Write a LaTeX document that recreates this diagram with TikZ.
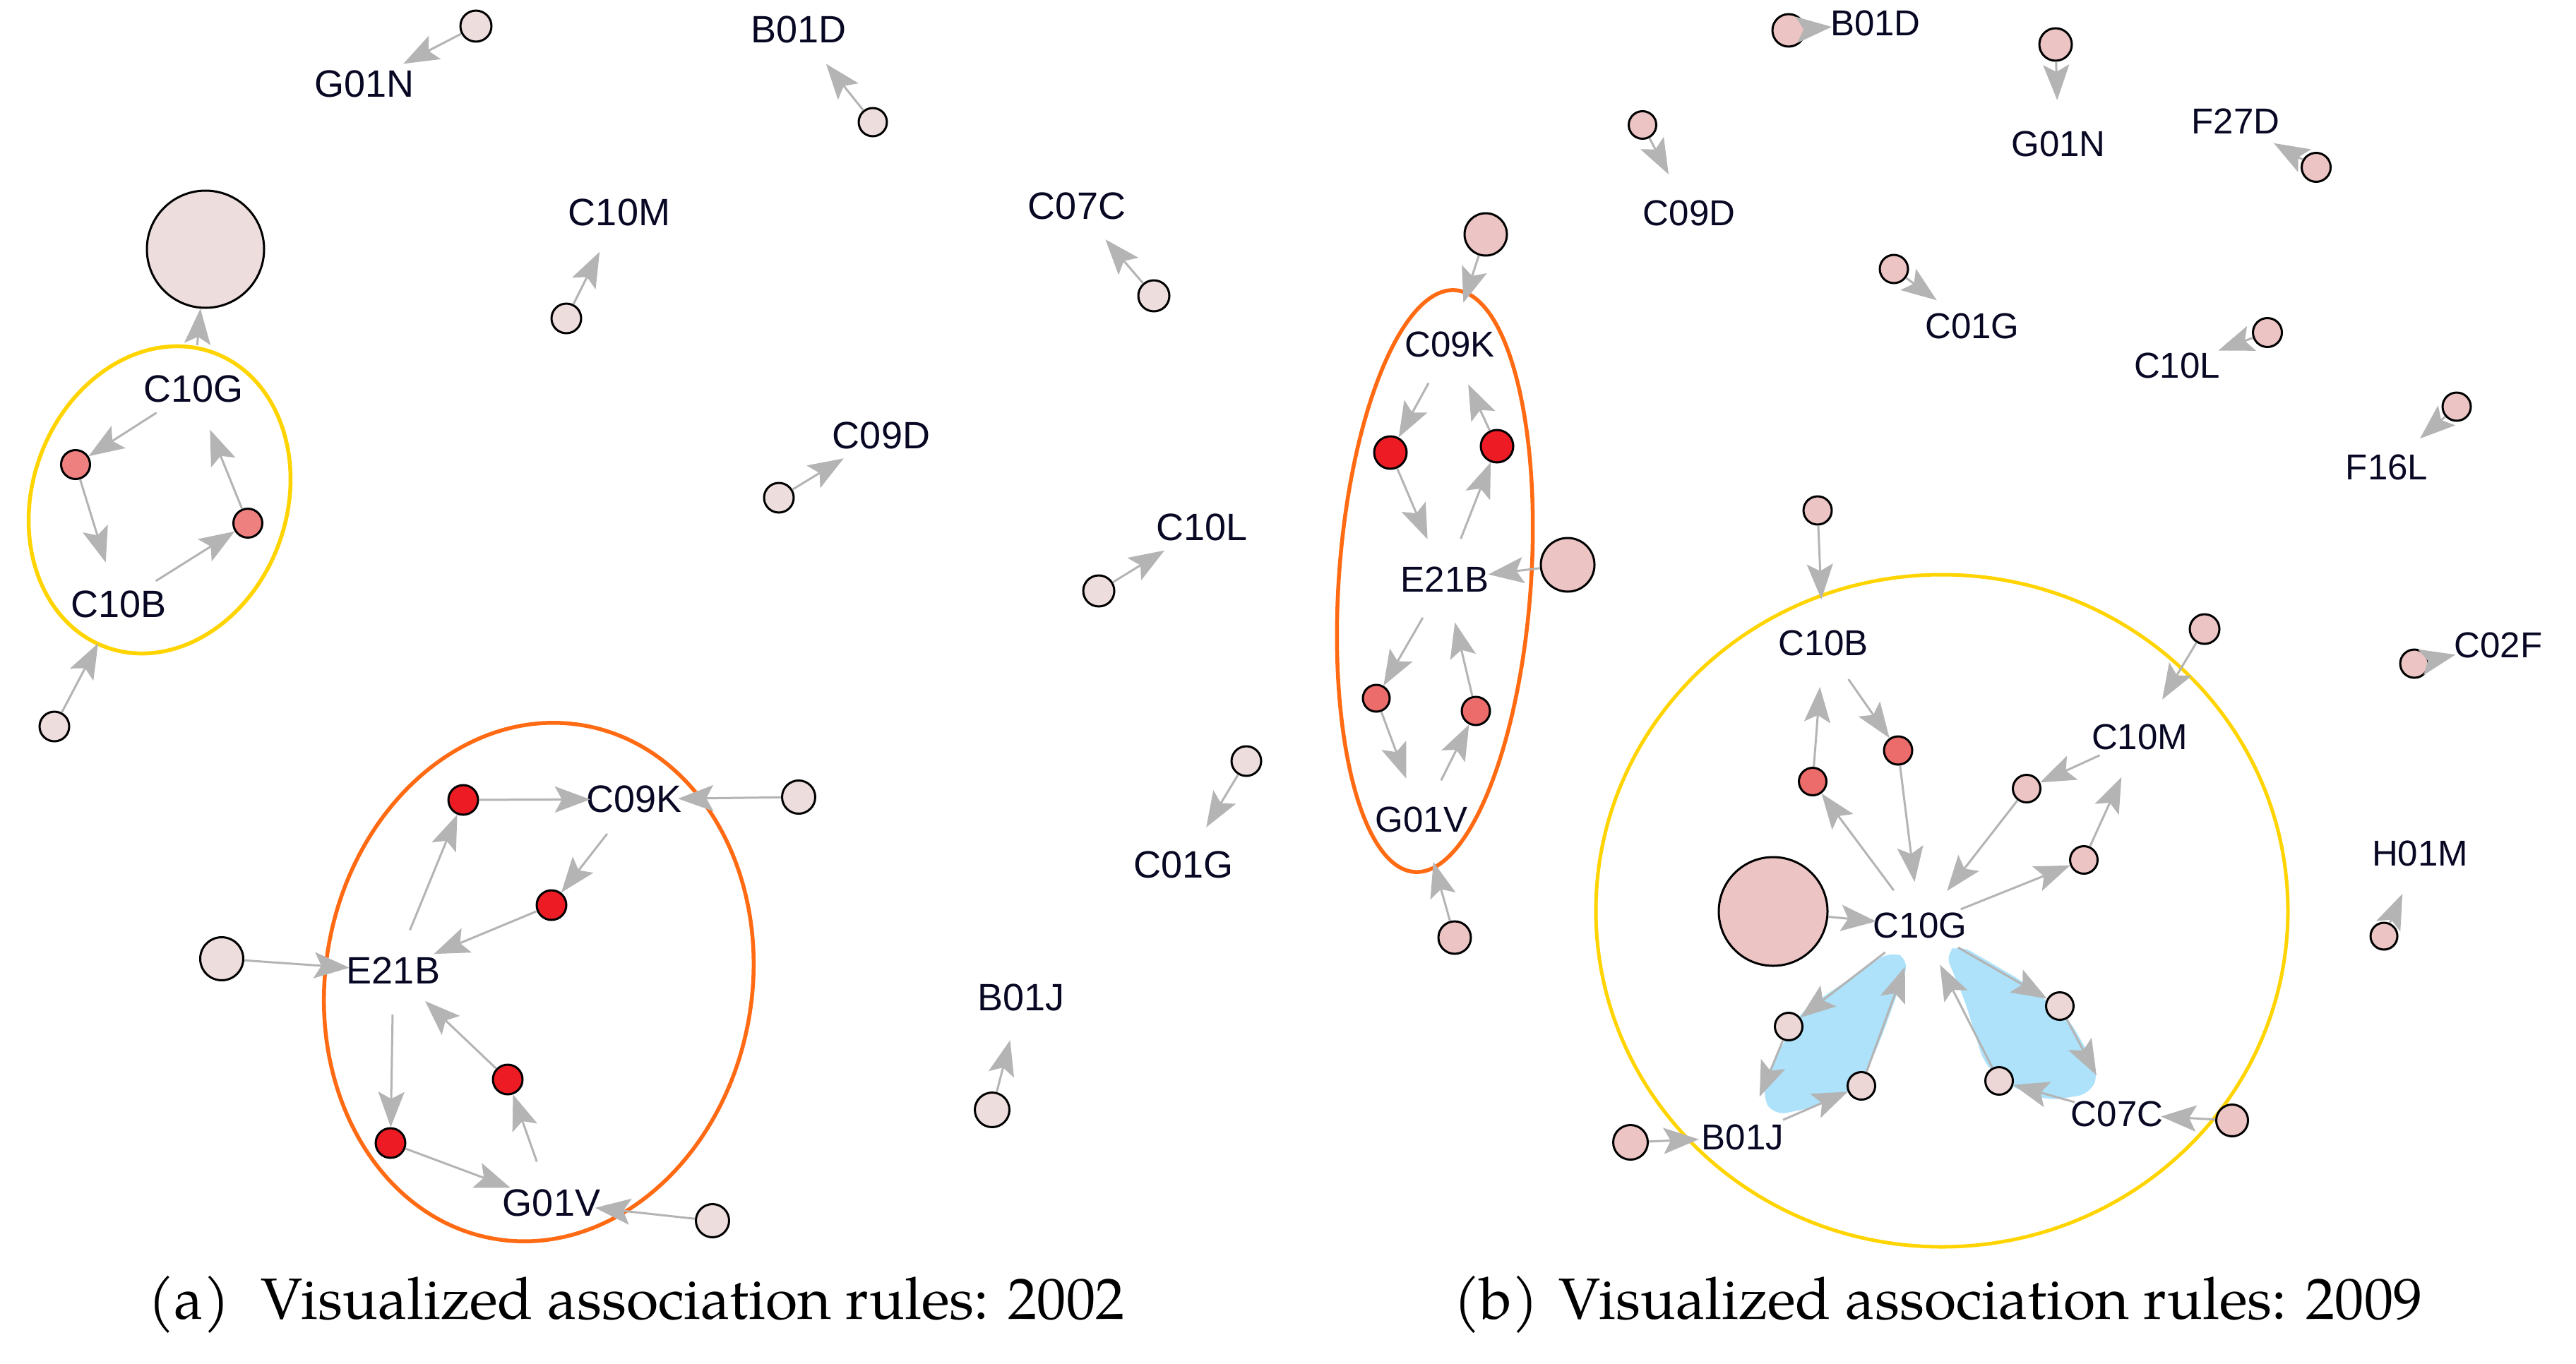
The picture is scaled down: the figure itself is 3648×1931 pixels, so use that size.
\documentclass[tikz,border=0pt]{standalone}
\usepackage{fontspec}
\setmainfont{TeX Gyre Pagella}
\newfontfamily\labfont{Liberation Sans}
\usetikzlibrary{arrows.meta}
\definecolor{edgegrey}{RGB}{180,180,180}
\definecolor{liteA}{RGB}{237,221,221}
\definecolor{salA}{RGB}{238,128,128}
\definecolor{redc}{RGB}{237,28,36}
\definecolor{liteB}{RGB}{236,196,196}
\definecolor{paleB}{RGB}{236,214,214}
\definecolor{salB}{RGB}{236,107,107}
\definecolor{blueblob}{RGB}{173,226,250}
\definecolor{yellowc}{RGB}{255,212,0}
\definecolor{orangec}{RGB}{255,106,19}
\definecolor{labc}{RGB}{8,8,36}
\newcommand\nlab[1]{\makebox[0pt]{#1}}
\begin{document}
\begin{tikzpicture}[x=1pt,y=-1pt,
  nd/.style={circle, draw=black, line width=3pt, inner sep=0pt},
  liteA/.style={nd, fill=liteA},
  salA/.style={nd, fill=salA},
  redn/.style={nd, fill=redc},
  liteB/.style={nd, fill=liteB},
  paleB/.style={nd, fill=paleB},
  salB/.style={nd, fill=salB},
  lbla/.style={circle, inner sep=0pt, minimum size=124pt, text=labc, font=\labfont\fontsize{54}{60}\selectfont},
  lblb/.style={circle, inner sep=0pt, minimum size=124pt, text=labc, font=\labfont\fontsize{51}{58}\selectfont},
  edge/.style={draw=edgegrey, line width=3pt, -{Stealth[length=50pt,width=37pt,inset=10pt]}},
  ring/.style={line width=5.5pt},
  captxt/.style={anchor=base west, inner sep=0pt, font=\fontsize{82.5}{90}\selectfont, text=black}
]
\fill[white] (0,0) rectangle (3648,1931);
\useasboundingbox (0,0) rectangle (3648,1931);

% ================= panel (a) 2002 =================
\draw[ring, yellowc, rotate around={-20:(226,708)}] (226,708) ellipse [x radius=180pt, y radius=222pt];
\draw[ring, orangec, rotate around={-10:(763,1391)}] (763,1391) ellipse [x radius=302pt, y radius=369pt];

\node[lbla] (lG01Na) at (516,119) {\nlab{G01N}};
\node[lbla] (lB01Da) at (1131,42) {\nlab{B01D}};
\node[lbla] (lC10Ma) at (877,301) {\nlab{C10M}};
\node[lbla] (lC07Ca) at (1525,292) {\nlab{C07C}};
\node[lbla] (lC10Ga) at (274,551) {\nlab{C10G}};
\node[lbla] (lC10Ba) at (168,856) {\nlab{C10B}};
\node[lbla] (lC09Da) at (1248,617) {\nlab{C09D}};
\node[lbla] (lC10La) at (1702,747) {\nlab{C10L}};
\node[lbla] (lC01Ga) at (1676,1225) {\nlab{C01G}};
\node[lbla] (lB01Ja) at (1446,1413) {\nlab{B01J}};
\node[lbla] (lC09Ka) at (898,1132) {\nlab{C09K}};
\node[lbla] (lE21Ba) at (557,1375) {\nlab{E21B}};
\node[lbla] (lG01Va) at (781,1704) {\nlab{G01V}};

\node[liteA, minimum size=44pt] (a1) at (674,37) {};
\node[liteA, minimum size=40pt] (a2) at (1236,173) {};
\node[liteA, minimum size=42pt] (a3) at (802,451) {};
\node[liteA, minimum size=44pt] (a4) at (1634,419) {};
\node[liteA, minimum size=166pt] (a5) at (291,353) {};
\node[salA, minimum size=41pt] (ar1) at (107,658) {};
\node[salA, minimum size=41pt] (ar2) at (351,741) {};
\node[liteA, minimum size=42pt] (a6) at (77,1029) {};
\node[liteA, minimum size=42pt] (a7) at (1103,705) {};
\node[liteA, minimum size=44pt] (a8) at (1556,837) {};
\node[liteA, minimum size=42pt] (a9) at (1765,1078) {};
\node[liteA, minimum size=49pt] (a10) at (1405,1572) {};
\node[redn, minimum size=42pt] (b1) at (656,1133) {};
\node[redn, minimum size=42pt] (b2) at (781,1282) {};
\node[redn, minimum size=42pt] (b3) at (719,1529) {};
\node[redn, minimum size=42pt] (b4) at (553,1619) {};
\node[liteA, minimum size=47pt] (a11) at (1131,1129) {};
\node[liteA, minimum size=61pt] (a12) at (314,1358) {};
\node[liteA, minimum size=47pt] (a13) at (1009,1729) {};

\draw[edge] (a1) -- (lG01Na);
\draw[edge] (a2) -- (lB01Da);
\draw[edge] (a3) -- (lC10Ma);
\draw[edge] (a4) -- (lC07Ca);
\draw[edge] (lC10Ga) -- (a5);
\draw[edge] (lC10Ga) -- (ar1);
\draw[edge] (ar1) -- (lC10Ba);
\draw[edge] (lC10Ba) -- (ar2);
\draw[edge] (ar2) -- (lC10Ga);
\draw[edge] (a6) -- (lC10Ba);
\draw[edge] (a7) -- (lC09Da);
\draw[edge] (a8) -- (lC10La);
\draw[edge] (a9) -- (lC01Ga);
\draw[edge] (a10) -- (lB01Ja);
\draw[edge] (b1) -- (lC09Ka);
\draw[edge] (a11) -- (lC09Ka);
\draw[edge] (lC09Ka) -- (b2);
\draw[edge] (b2) -- (lE21Ba);
\draw[edge] (lE21Ba) -- (b1);
\draw[edge] (a12) -- (lE21Ba);
\draw[edge] (lE21Ba) -- (b4);
\draw[edge] (b3) -- (lE21Ba);
\draw[edge] (b4) -- (lG01Va);
\draw[edge] (lG01Va) -- (b3);
\draw[edge] (a13) -- (lG01Va);

% ================= panel (b) 2009 =================
\fill[blueblob, rounded corners=18pt] (2677,1347) -- (2551,1433) -- (2509,1507) -- (2495,1552) -- (2512,1580) -- (2579,1566) -- (2635,1538) -- (2666,1465) -- (2704,1359) -- cycle;
\fill[blueblob, rounded corners=18pt] (2754,1349) -- (2775,1338) -- (2866,1391) -- (2930,1444) -- (2972,1517) -- (2961,1549) -- (2902,1559) -- (2845,1538) -- (2810,1507) -- (2782,1416) -- cycle;
\draw[ring, orangec, rotate around={-4:(2032,823)}] (2032,823) ellipse [x radius=136pt, y radius=413pt];
\draw[ring, yellowc, line width=5pt] (2750,1290) ellipse [x radius=490pt, y radius=476pt];

\node[lblb] (lB01Db) at (2656,33) {\nlab{B01D}};
\node[lblb] (lC09Db) at (2392,302) {\nlab{C09D}};
\node[lblb] (lG01Nb) at (2915,204) {\nlab{G01N}};
\node[lblb] (lF27D) at (3166,172) {\nlab{F27D}};
\node[lblb] (lC01Gb) at (2793,462) {\nlab{C01G}};
\node[lblb] (lC10Lb) at (3083,518) {\nlab{C10L}};
\node[lblb] (lF16L) at (3380,662) {\nlab{F16L}};
\node[lblb] (lC02F) at (3538,914) {\nlab{C02F}};
\node[lblb] (lH01M) at (3427,1209) {\nlab{H01M}};
\node[lblb] (lC09Kb) at (2053,488) {\nlab{C09K}};
\node[lblb] (lE21Bb) at (2046,821) {\nlab{E21B}};
\node[lblb] (lG01Vb) at (2013,1161) {\nlab{G01V}};
\node[lblb] (lC10Bb) at (2582,911) {\nlab{C10B}};
\node[lblb] (lC10Mb) at (3030,1044) {\nlab{C10M}};
\node[lblb] (lC10Gb) at (2719,1311) {\nlab{C10G}};
\node[lblb] (lB01Jb) at (2468,1611) {\nlab{B01J}};
\node[lblb] (lC07Cb) at (2998,1578) {\nlab{C07C}};

\node[liteB, minimum size=46pt] (c1) at (2533,43) {};
\node[liteB, minimum size=39pt] (c2) at (2326,177) {};
\node[liteB, minimum size=46pt] (c3) at (2911,63) {};
\node[liteB, minimum size=41pt] (c4) at (3280,237) {};
\node[liteB, minimum size=40pt] (c5) at (2682,381) {};
\node[liteB, minimum size=41pt] (c6) at (3211,471) {};
\node[liteB, minimum size=40pt] (c7) at (3479,576) {};
\node[liteB, minimum size=40pt] (c8) at (3419,940) {};
\node[liteB, minimum size=38pt] (c9) at (3376,1326) {};
\node[liteB, minimum size=60pt] (c10) at (2104,332) {};
\node[redn, minimum size=46pt] (d1) at (1969,641) {};
\node[redn, minimum size=46pt] (d2) at (2120,632) {};
\node[liteB, minimum size=76pt] (c11) at (2220,800) {};
\node[salB, minimum size=38pt] (d3) at (1949,989) {};
\node[salB, minimum size=40pt] (d4) at (2090,1007) {};
\node[liteB, minimum size=46pt] (c12) at (2060,1328) {};
\node[liteB, minimum size=40pt] (c13) at (2574,723) {};
\node[salB, minimum size=39pt] (e1) at (2567,1107) {};
\node[salB, minimum size=40pt] (e2) at (2688,1063) {};
\node[liteB, minimum size=39pt] (f1) at (2870,1117) {};
\node[liteB, minimum size=39pt] (f2) at (2951,1218) {};
\node[liteB, minimum size=42pt] (c14) at (3122,891) {};
\node[liteB, minimum size=154pt] (c15) at (2511,1291) {};
\node[paleB, minimum size=39pt] (g1) at (2533,1454) {};
\node[paleB, minimum size=39pt] (g2) at (2636,1538) {};
\node[liteB, minimum size=49pt] (c16) at (2309,1618) {};
\node[paleB, minimum size=39pt] (h1) at (2917,1425) {};
\node[paleB, minimum size=39pt] (h2) at (2831,1531) {};
\node[liteB, minimum size=45pt] (c17) at (3161,1587) {};

\draw[edge] (c1) -- (lB01Db);
\draw[edge] (c2) -- (lC09Db);
\draw[edge] (c3) -- (lG01Nb);
\draw[edge] (c4) -- (lF27D);
\draw[edge] (c5) -- (lC01Gb);
\draw[edge] (c6) -- (lC10Lb);
\draw[edge] (c7) -- (lF16L);
\draw[edge] (c8) -- (lC02F);
\draw[edge] (c9) -- (lH01M);
\draw[edge] (c10) -- (lC09Kb);
\draw[edge] (lC09Kb) -- (d1);
\draw[edge] (d1) -- (lE21Bb);
\draw[edge] (lE21Bb) -- (d2);
\draw[edge] (d2) -- (lC09Kb);
\draw[edge] (c11) -- (lE21Bb);
\draw[edge] (lE21Bb) -- (d3);
\draw[edge] (d3) -- (lG01Vb);
\draw[edge] (lG01Vb) -- (d4);
\draw[edge] (d4) -- (lE21Bb);
\draw[edge] (c12) -- (lG01Vb);
\draw[edge] (c13) -- (lC10Bb);
\draw[edge] (e1) -- (lC10Bb);
\draw[edge] (lC10Bb) -- (e2);
\draw[edge] (e2) -- (lC10Gb);
\draw[edge] (lC10Gb) -- (e1);
\draw[edge] (lC10Mb) -- (f1);
\draw[edge] (f1) -- (lC10Gb);
\draw[edge] (lC10Gb) -- (f2);
\draw[edge] (f2) -- (lC10Mb);
\draw[edge] (c14) -- (lC10Mb);
\draw[edge] (c15) -- (lC10Gb);
\draw[edge] (lC10Gb) -- (g1);
\draw[edge] (g1) -- (lB01Jb);
\draw[edge] (lB01Jb) -- (g2);
\draw[edge] (g2) -- (lC10Gb);
\draw[edge] (c16) -- (lB01Jb);
\draw[edge] (lC10Gb) -- (h1);
\draw[edge] (h1) -- (lC07Cb);
\draw[edge] (lC07Cb) -- (h2);
\draw[edge] (h2) -- (lC10Gb);
\draw[edge] (c17) -- (lC07Cb);

% ================= captions =================
\node[captxt] (capa1) at (209,1868) {(a)};
\node[captxt] (capa2) at (369,1868) {Visualized association rules: 2002};
\node[captxt] (capb1) at (2058,1868) {(b)};
\node[captxt] (capb2) at (2207,1868) {Visualized association rules: 2009};
\end{tikzpicture}
\end{document}
